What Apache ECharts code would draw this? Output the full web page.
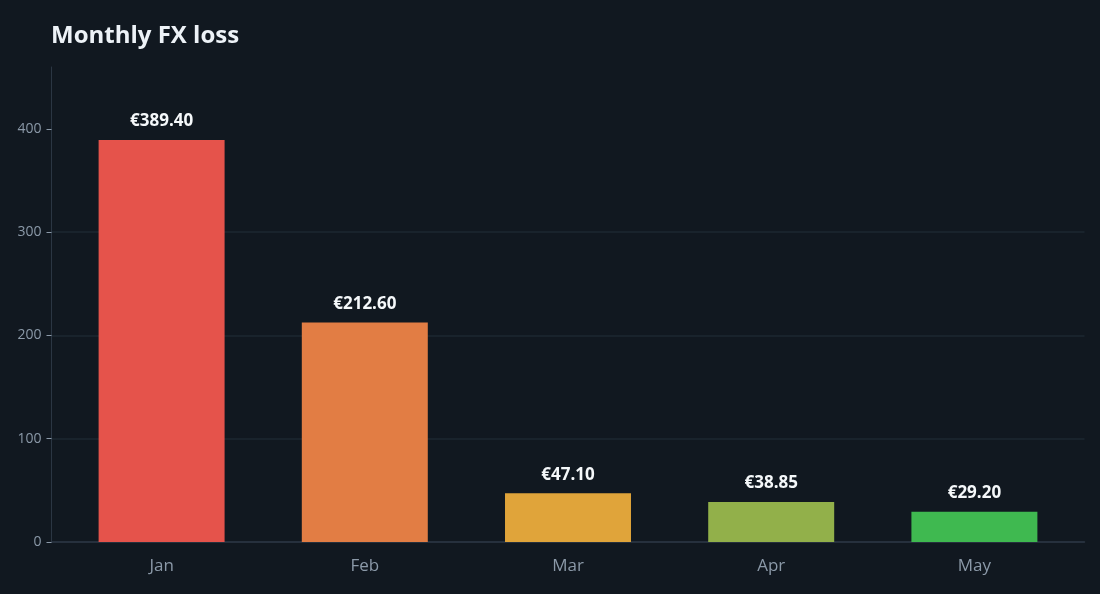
<!DOCTYPE html>
<html>
  <head>
    <meta charset="utf-8" />
    <title>Monthly FX loss</title>
    <script src="https://cdn.jsdelivr.net/npm/echarts@6/dist/echarts.min.js"></script>
    <style>
      html, body {
        margin: 0;
        padding: 0;
        background: #111820;
      }
      #main {
        width: 1100px;
        height: 594px;
      }
    </style>
  </head>
  <body>
    <div id="main"></div>
    <script type="text/javascript">
      var months = ["Jan", "Feb", "Mar", "Apr", "May"];
      var fxLoss = [389.4, 212.6, 47.1, 38.85, 29.2];
      var barColors = ["#e5534b", "#e27d44", "#e0a43a", "#92b04a", "#3fb950"];
      var yTicks = [0, 100, 200, 300, 400];
      var yMax = 460;

      var myChart = echarts.init(document.getElementById("main"));

      // grid 0 draws the frame (y axis, split lines, x axis line),
      // grid 1 is a bit narrower and holds the bars and month labels
      var option = {
        backgroundColor: "#111820",
        textStyle: { fontFamily: "Open Sans" },
        title: {
          text: "Monthly FX loss",
          left: 46,
          top: 19,
          textStyle: {
            color: "#edf2f7",
            fontSize: 24,
            fontWeight: "bold",
            fontFamily: "Open Sans",
          },
        },
        grid: [
          { left: 51.5, right: 15.5, top: 67, bottom: 52 },
          { left: 60, right: 24, top: 67, bottom: 52 },
        ],
        xAxis: [
          {
            gridIndex: 0,
            type: "value",
            min: 0,
            max: 1,
            axisLine: { show: true, onZero: false, lineStyle: { color: "#2b3643", width: 1.5 } },
            axisTick: { show: false },
            axisLabel: { show: false },
            splitLine: { show: false },
          },
          {
            gridIndex: 1,
            type: "category",
            data: months,
            axisLine: { show: false },
            axisTick: { alignWithLabel: true, length: 5, lineStyle: { color: "#05080c" } },
            axisLabel: { color: "#8b99a8", fontSize: 17, margin: 16 },
          },
        ],
        yAxis: [
          {
            gridIndex: 0,
            type: "value",
            min: 0,
            max: yMax,
            interval: 100,
            axisLine: { show: true, lineStyle: { color: "#2b3643" } },
            axisTick: { show: true, length: 5, customValues: yTicks, lineStyle: { color: "#8b99a8" } },
            axisLabel: { color: "#8b99a8", fontSize: 14, margin: 10, customValues: yTicks },
            splitLine: { showMaxLine: false, lineStyle: { color: "#1d2731", width: 1.5 } },
          },
          {
            gridIndex: 1,
            type: "value",
            min: 0,
            max: yMax,
            show: false,
          },
        ],
        series: [
          {
            type: "bar",
            xAxisIndex: 1,
            yAxisIndex: 1,
            barWidth: "62%",
            data: fxLoss.map(function (v, i) {
              return { value: v, itemStyle: { color: barColors[i] } };
            }),
            label: {
              show: true,
              position: "top",
              distance: 10,
              color: "#f5f8fa",
              fontSize: 17,
              fontWeight: "bold",
              formatter: function (p) {
                return "€" + p.value.toFixed(2);
              },
            },
          },
        ],
      };

      myChart.setOption(option);
    </script>
  </body>
</html>
